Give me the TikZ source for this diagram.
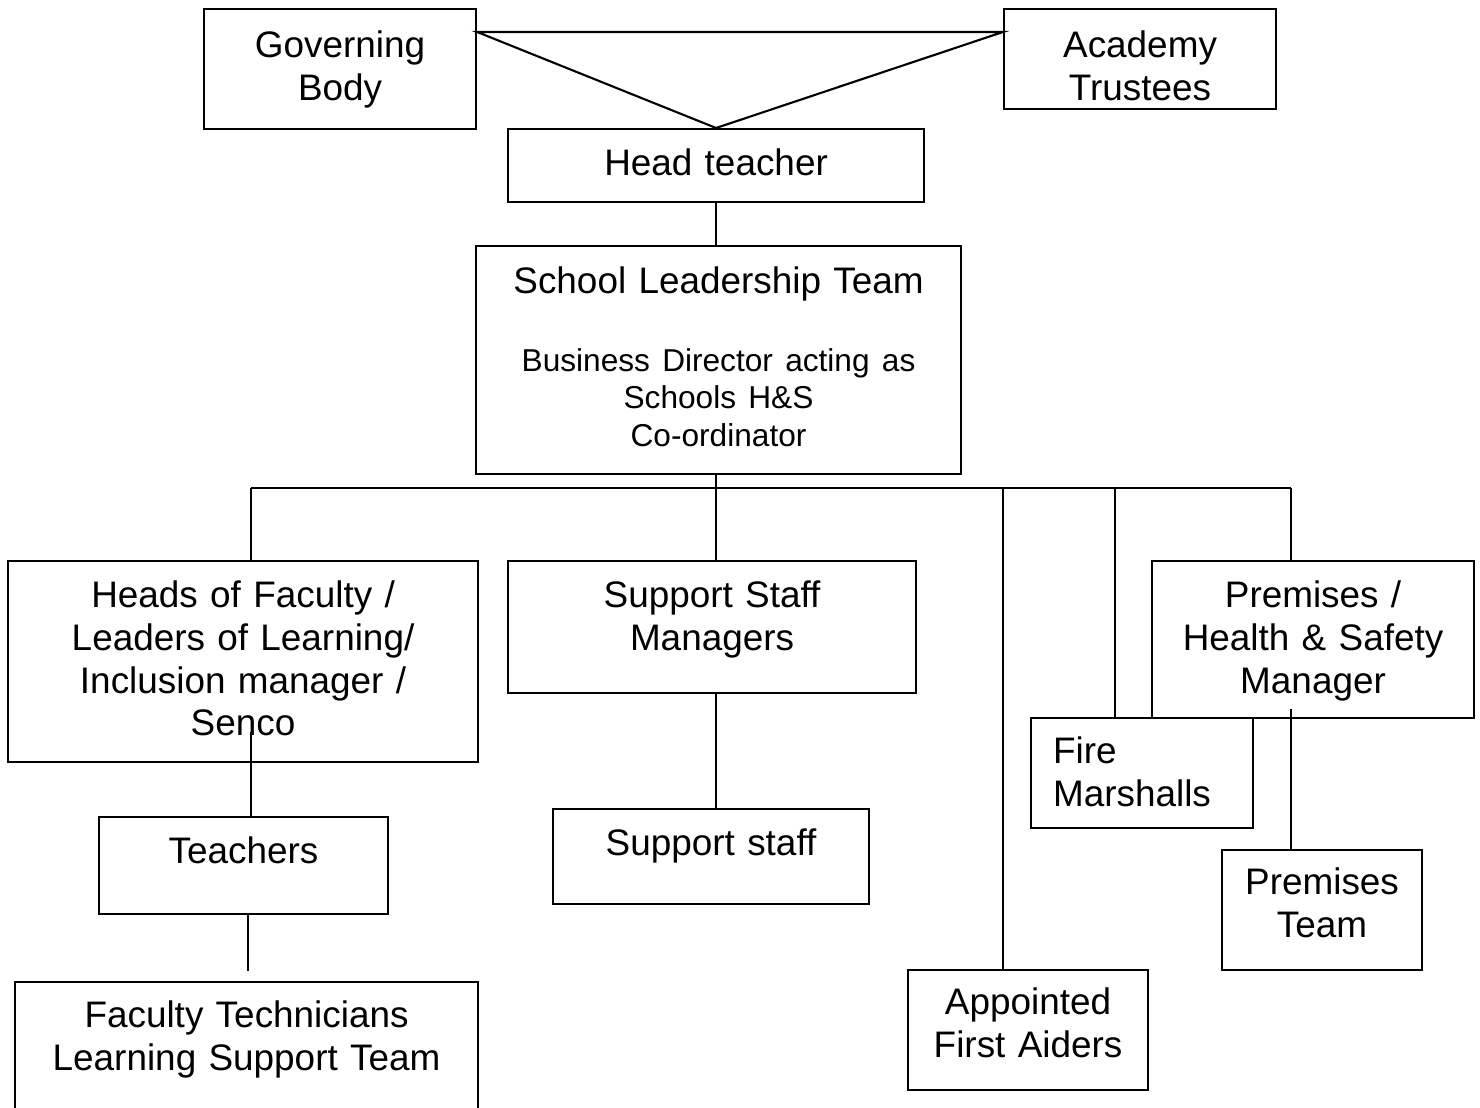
\documentclass[tikz,border=0pt]{standalone}
\usepackage{fontspec}
\setmainfont{Liberation Sans}
\usepackage{tikz}
\usetikzlibrary{positioning}

\newcommand{\sltsmall}{\fontsize{9}{10.6}\selectfont}

\tikzset{
  unit/.style={draw, line width=0.6pt, anchor=north west, align=center,
    inner xsep=1mm, inner ysep=0pt,
    font=\fontsize{10.5}{12.23}\selectfont},
  link/.style={line width=0.6pt},
}

\begin{document}
\begin{tikzpicture}
    \useasboundingbox (0,0) rectangle (14.8,11.08);

    % 上层
    \node[unit, text width=25.2mm, text height=4.8mm, text depth=7.2mm] (gov) at (2.03,11.00) {Governing\\Body};
    \node[unit, text width=25.2mm, text height=4.8mm, text depth=5.2mm] (acad) at (10.03,11.00) {Academy\\Trustees};
    \node[unit, text width=39.6mm, text height=4.6mm, text depth=2.7mm] (head) at (5.07,9.80) {Head teacher};
    \node[unit, text width=46.5mm, text height=4.7mm, text depth=18.1mm] (slt) at (4.75,8.63)
        {School Leadership Team\\[9.96pt]
         {\sltsmall Business Director acting as}\\[-1.56pt]
         {\sltsmall Schools H\&S}\\[-1.56pt]
         {\sltsmall Co-ordinator}};

    % 中层
    \node[unit, text width=45.0mm, text height=4.6mm, text depth=15.5mm] (hof) at (0.07,5.48)
        {Heads of Faculty /\\Leaders of Learning/\\Inclusion manager /\\Senco};
    \node[unit, text width=38.8mm, text height=4.6mm, text depth=8.6mm] (ssm) at (5.07,5.48) {Support Staff\\Managers};
    \node[unit, text width=30.2mm, text height=4.6mm, text depth=11.1mm] (phs) at (11.51,5.48)
        {Premises /\\Health \& Safety\\Manager};
    \node[unit, align=left, inner xsep=2.2mm, text width=17.8mm, text height=4.5mm, text depth=6.5mm] (fire) at (10.30,3.91) {Fire\\Marshalls};

    % 下层
    \node[unit, text width=26.9mm, text height=4.6mm, text depth=5.1mm] (teach) at (0.98,2.92) {Teachers};
    \node[unit, text width=44.3mm, text height=4.5mm, text depth=10.5mm] (ftls) at (0.14,1.27)
        {Faculty Technicians\\Learning Support Team};
    \node[unit, text width=29.6mm, text height=4.6mm, text depth=4.9mm] (sstf) at (5.52,3.00) {Support staff};
    \node[unit, text width=18.0mm, text height=4.4mm, text depth=7.6mm] (ptm) at (12.21,2.59) {Premises\\Team};
    \node[unit, text width=22.0mm, text height=4.4mm, text depth=7.6mm] (faid) at (9.07,1.39) {Appointed\\First Aiders};

    % 分支点
    \coordinate (busL) at (2.51,6.20);
    \coordinate (busR) at (12.91,6.20);
    \coordinate (tapA) at (10.03,6.20);
    \coordinate (tapF) at (11.15,6.20);
    \coordinate (hofdrop) at (2.51,3.76);
    \coordinate (teachdrop) at (2.48,1.37);
    \coordinate (phsdrop) at (12.91,3.99);

    % 连线
    \draw[link] ([yshift=-2.4mm]gov.north east) -- ([yshift=-2.4mm]acad.north west) -- (head.north) -- cycle;
    \draw[link] (head.south) -- (head.south |- slt.north);
    \draw[link] (head.south |- slt.south) -- (head.south |- busL);
    \draw[link] (busL) -- (busR);
    \draw[link] (busL) -- (busL |- hof.north);
    \draw[link] (head.south |- busL) -- (head.south |- ssm.north);
    \draw[link] (tapA) -- (tapA |- faid.north);
    \draw[link] (tapF) -- (tapF |- fire.north);
    \draw[link] (busR) -- (busR |- phs.north);
    \draw[link] (hofdrop) -- (hofdrop |- teach.north);
    \draw[link] (teachdrop |- teach.south) -- (teachdrop);
    \draw[link] (head.south |- ssm.south) -- (head.south |- sstf.north);
    \draw[link] (phsdrop) -- (phsdrop |- ptm.north);
\end{tikzpicture}
\end{document}
